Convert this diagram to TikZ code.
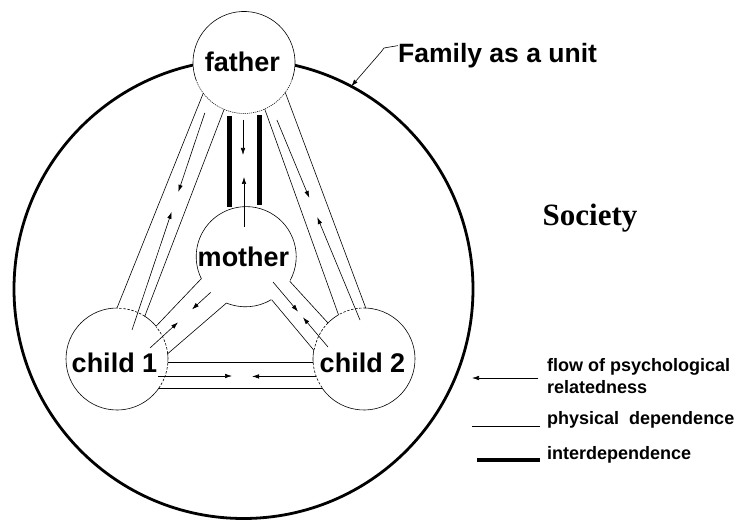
\documentclass[tikz,border=0pt]{standalone}
\usepackage{fontspec}
\setmainfont{Liberation Sans}
\newfontfamily\societyfont{Liberation Serif}
\usetikzlibrary{calc,arrows.meta}
\begin{document}
\begin{tikzpicture}[
  x=1pt, y=1pt,
  member/.style={circle, minimum size=#1, inner sep=0pt, outer sep=0pt},
  rel/.style={line width=0.6pt},
  open/.style={line width=0.6pt, dash pattern=on 2.5pt off 1.6pt},
  faint/.style={line width=0.5pt, dash pattern=on 1.2pt off 0.9pt},
  flow/.style={line width=0.6pt, -{Latex[length=7pt,width=4.5pt]}},
  bond/.style={line width=5pt},
  unitline/.style={line width=2.8pt},
  who/.style={font=\fontsize{27}{27}\selectfont\bfseries, anchor=base, inner sep=0pt},
  key/.style={font=\fontsize{18}{18}\selectfont\bfseries, anchor=base west, inner sep=0pt}
]
\useasboundingbox (0,0) rectangle (736,520);

% the family as a whole
\node[member=459pt, draw, unitline] (unit) at (243.5,231) {};

% family members
\node[member=102pt, fill=white] (father) at (244,457.5) {};
\node[member=100pt] (mother) at (246,263) {};
\node[member=102pt] (child1) at (117,161) {};
\node[member=102pt] (child2) at (364,161) {};

% outlines: open where the bonds attach
\draw[rel] (father.-20) arc[start angle=-20, end angle=200, radius=51pt];
\draw[faint] (father.200) arc[start angle=200, end angle=340, radius=51pt];

\draw[rel] (mother.-28.5) arc[start angle=-28.5, end angle=206.6, radius=50pt];
\draw[rel] (mother.247.6) arc[start angle=247.6, end angle=301, radius=50pt];

\draw[rel] (child1.90) arc[start angle=90, end angle=325, radius=51pt];
\draw[rel] (child1.-4) arc[start angle=-4, end angle=6.7, radius=51pt];
\draw[rel] (child1.40) arc[start angle=40, end angle=57.5, radius=51pt];
\draw[open] (child1.-35) arc[start angle=-35, end angle=-4, radius=51pt];
\draw[open] (child1.6.7) arc[start angle=6.7, end angle=40, radius=51pt];
\draw[open] (child1.57.5) arc[start angle=57.5, end angle=90, radius=51pt];

\draw[rel] (child2.215) arc[start angle=215, end angle=448, radius=51pt];
\draw[rel] (child2.120) arc[start angle=120, end angle=135.8, radius=51pt];
\draw[rel] (child2.170) arc[start angle=170, end angle=184.5, radius=51pt];
\draw[open] (child2.88) arc[start angle=88, end angle=120, radius=51pt];
\draw[open] (child2.135.8) arc[start angle=135.8, end angle=170, radius=51pt];
\draw[open] (child2.184.5) arc[start angle=184.5, end angle=215, radius=51pt];

% father -- child 1
\draw[rel] (father.217) -- (child1.90);
\draw[rel] (father.247) -- (child1.57.5);
\coordinate (fc1t) at (father.227);
\coordinate (fc1b) at ($(child1.center)+(15,29)$);
\draw[flow] ($(fc1t)!0.057!(fc1b)$) -- ($(fc1t)!0.40!(fc1b)$);
\draw[flow] (fc1b) -- ($(fc1t)!0.487!(fc1b)$);

% father -- child 2
\draw[rel] (father.294) -- (child2.120);
\draw[rel] (father.324) -- (child2.88);
\coordinate (fc2t) at (father.302);
\coordinate (fc2b) at ($(child2.center)+(-4,39)$);
\draw[flow] ($(fc2t)!0.067!(fc2b)$) -- ($(fc2t)!0.43!(fc2b)$);
\draw[flow] (fc2b) -- ($(fc2t)!0.52!(fc2b)$);

% father -- mother: interdependence
\draw[bond] ([xshift=-14.5pt,yshift=-2.5pt]father.south) -- ++(0,-91);
\draw[bond] ([xshift=15.5pt,yshift=-1.5pt]father.south) -- ++(0,-90);
\draw[flow] ([xshift=-1pt,yshift=-6.5pt]father.south) -- ++(0,-35);
\draw[flow] ([xshift=-2pt,yshift=-20pt]mother.north) -- ++(0,50);

% mother -- child 1
\draw[rel] (mother.206.6) -- (child1.40);
\draw[rel] (mother.247.6) -- (child1.6.7);
\coordinate (mc1t) at (mother.225);
\coordinate (mc1b) at ($(child1.center)+(33,11)$);
\draw[flow] (mc1t) -- ($(mc1t)!0.307!(mc1b)$);
\draw[flow] (mc1b) -- ($(mc1t)!0.538!(mc1b)$);

% mother -- child 2
\draw[rel] (mother.331.5) -- (child2.135.8);
\draw[rel] (mother.301) -- (child2.170);
\coordinate (mc2t) at ($(mother.center)+(27,-25)$);
\coordinate (mc2b) at ($(child2.center)+(-36,12)$);
\draw[flow] (mc2t) -- ($(mc2t)!0.455!(mc2b)$);
\draw[flow] (mc2b) -- ($(mc2t)!0.545!(mc2b)$);

% child 1 -- child 2
\draw[rel] (child1.-4) -- (child2.184.5);
\draw[rel] (child1.-35) -- (child2.215);
\draw[flow] ([shift={(41,-17)}]child1.center) -- ++(74,0);
\draw[flow] (child2.200) -- ++(-64,0);

% names
\node[who] at (242.5,448) {father};
\node[who] at (243.5,253) {mother};
\node[who] at (114.5,148) {child 1};
\node[who] at (362.5,148) {child 2};

% family label with pointer
\node[font=\fontsize{26.5}{26.5}\selectfont\bfseries, anchor=base west, inner sep=0pt] (famlabel) at (398,457) {Family as a unit};
\coordinate (p1) at (384,472);
\coordinate (p2) at (381,468);
\draw[rel, -{Latex[length=7pt,width=4.5pt]}] (famlabel.north west) ++(0,-2) -- (p1) -- (p2) -- (unit.62.7);

% surroundings
\node[font=\societyfont\fontsize{31}{31}\selectfont\bfseries, anchor=base, inner sep=0pt] (society) at (590,294) {Society};

% legend
\node[key] (kflow) at (547,148.3) {flow of psychological};
\node[key] (kflow2) at (547,126.7) {relatedness};
\node[key] (kphys) at (547,96) {physical\ \ dependence};
\node[key] (kinter) at (547,60.5) {interdependence};
\coordinate (s1) at (538,142);
\coordinate (s2) at (540,93.3);
\coordinate (s3) at (540,60);
\draw[flow] (s1) -- ++(-66,0);
\draw[rel] (s2) -- ++(-68,0);
\draw[line width=4.5pt] (s3) -- ++(-63,0);
\end{tikzpicture}
\end{document}
